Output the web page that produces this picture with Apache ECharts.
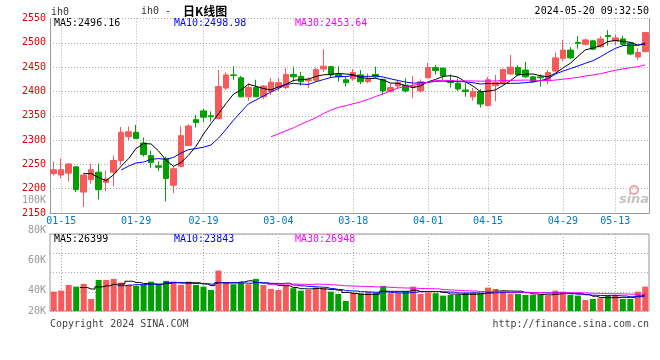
<!DOCTYPE html>
<html><head><meta charset="utf-8">
<script src="https://cdn.jsdelivr.net/npm/echarts/dist/echarts.min.js"></script>
<style>html,body{margin:0;padding:0;background:#fff}#c{width:660px;height:360px}</style>
</head><body><div id="c"></div>
<script>
const dates = ["01-12","01-15","01-16","01-17","01-18","01-19","01-22","01-23","01-24","01-25","01-26","01-29","01-30","01-31",
"02-01","02-02","02-05","02-06","02-07","02-08","02-19","02-20","02-21","02-22","02-23","02-26","02-27","02-28","02-29",
"03-01","03-04","03-05","03-06","03-07","03-08","03-11","03-12","03-13","03-14","03-15","03-18","03-19","03-20","03-21","03-22","03-25","03-26","03-27","03-28","03-29",
"04-01","04-02","04-03","04-08","04-09","04-10","04-11","04-12","04-15","04-16","04-17","04-18","04-19","04-22","04-23","04-24","04-25","04-26","04-29","04-30",
"05-06","05-07","05-08","05-09","05-10","05-13","05-14","05-15","05-16","05-17"];
const opens  = [2231,2228,2232,2245,2193,2219,2234,2213,2234,2258,2307,2316,2294,2268,2247,2262,2207,2246,2289,2342,
                2360,2350,2344,2407,2434,2428,2389,2408,2389,2400,2408,2408,2435,2431,2422,2423,2446,2451,2435,2424,
                2426,2434,2420,2435,2425,2400,2411,2413,2409,2401,2428,2449,2448,2422,2417,2403,2389,2400,2371,2412,
                2417,2436,2449,2444,2430,2430,2424,2442,2468,2485,2501,2497,2504,2492,2515,2504,2508,2500,2471,2482];
const closes = [2239,2239,2251,2198,2228,2239,2198,2220,2258,2316,2317,2303,2270,2254,2244,2221,2241,2309,2329,2336,
                2347,2348,2410,2434,2433,2389,2408,2389,2411,2419,2418,2435,2430,2420,2424,2445,2452,2434,2430,2418,
                2439,2420,2427,2430,2401,2408,2418,2401,2411,2420,2449,2443,2432,2418,2405,2400,2400,2374,2424,2418,
                2445,2450,2434,2430,2420,2428,2439,2469,2485,2469,2499,2506,2487,2508,2513,2510,2497,2477,2480,2521];
const lows   = [2227,2221,2215,2193,2162,2210,2178,2195,2205,2249,2299,2303,2266,2243,2236,2174,2191,2244,2289,2326,
                2337,2338,2343,2403,2424,2388,2381,2389,2384,2393,2401,2405,2420,2412,2407,2420,2440,2429,2420,2410,
                2422,2415,2417,2427,2393,2398,2406,2398,2387,2398,2428,2435,2424,2408,2401,2389,2381,2367,2369,2380,
                2415,2434,2432,2428,2418,2410,2415,2439,2462,2467,2488,2494,2485,2490,2494,2495,2494,2475,2465,2480];
const highs  = [2256,2262,2252,2245,2232,2251,2252,2237,2268,2327,2328,2331,2305,2278,2256,2266,2245,2328,2333,2352,
                2364,2359,2444,2439,2452,2432,2417,2424,2413,2428,2428,2448,2451,2440,2429,2449,2487,2452,2452,2430,
                2446,2444,2437,2451,2426,2417,2424,2427,2432,2425,2459,2454,2449,2435,2427,2417,2407,2405,2430,2434,
                2447,2475,2454,2461,2432,2435,2444,2480,2506,2491,2514,2509,2506,2514,2526,2516,2514,2502,2489,2522];
const volumes = [30600,32200,41200,38500,42800,19000,49100,49100,50700,44900,41200,39600,41200,46400,42300,47600,46400,41200,46400,41200,
                 38500,33300,63900,44900,42300,44900,42300,50700,41200,34900,33300,39600,36000,32200,33300,36900,36000,30600,26900,15900,
                 29000,28100,30600,29000,39600,28100,28100,30600,38500,26900,29000,28100,24300,25400,25400,28100,29000,28100,36900,34900,
                 30600,26900,26900,25400,25400,25400,24300,32200,30600,25400,24300,17400,19000,20100,24300,25400,19000,19000,30600,38500];
const labelDates = ["01-15","01-29","02-19","03-04","03-18","04-01","04-15","04-29","05-13"];
const volLabels = ["100K","80K","60K","40K","20K"];
const volLabelY = [200,230,260,290,311];

const UP = '#f65a5a', DOWN = '#00a000';
const MONO = '"DejaVu Sans Mono", "Liberation Mono", monospace';
function ma(arr, n) {
  return arr.map((v, i) => {
    if (i < n - 1) return '-';
    let s = 0; for (let k = i - n + 1; k <= i; k++) s += arr[k];
    return +(s / n).toFixed(2);
  });
}
const dot = { color: '#aaa', width: 1, type: [1, 2] };
const isLab = (i, v) => labelDates.indexOf(v) >= 0;

const chart = echarts.init(document.getElementById('c'), null, { renderer: 'canvas' });
const txt = (t, x, y, fill, align, font) => ({ type: 'text', x: x, y: y, silent: true,
  style: { text: t, fill: fill, align: align || 'left', verticalAlign: 'middle', font: font || ('10px ' + MONO) } });

const graphics = [
  txt('ih0', 51, 12, '#333'),
  txt('ih0 -', 141, 11, '#333'),
  txt('日K线图', 183, 11, '#000', 'left', 'bold 12px "Noto Sans CJK SC"'),
  txt('2024-05-20 09:32:50', 649, 11, '#000', 'right'),
  txt('MA5:2496.16', 54, 23, '#000'),
  txt('MA10:2498.98', 174, 23, '#0000ff'),
  txt('MA30:2453.64', 295, 23, '#ff00ff'),
  txt('MA5:26399', 54, 239, '#000'),
  txt('MA10:23843', 174, 239, '#0000ff'),
  txt('MA30:26948', 295, 239, '#ff00ff'),
  txt('Copyright 2024 SINA.COM', 50, 324, '#444'),
  txt('http://finance.sina.com.cn', 649, 324, '#444', 'right'),
  { type: 'circle', shape: { cx: 634, cy: 190, r: 4 }, style: { fill: 'none', stroke: '#f3a5a5', lineWidth: 2 }, silent: true },
  txt('sina', 634, 200, '#c4c4c4', 'center', 'italic bold 13px "DejaVu Sans"')
];
volLabels.forEach((t, i) => graphics.push(txt(t, 46, volLabelY[i], '#999', 'right')));

const maLine = (name, data, color, xi, yi, step) => ({
  name: name, type: 'line', data: data, xAxisIndex: xi, yAxisIndex: yi, showSymbol: false, symbol: 'none',
  step: step || false, lineStyle: { color: color, width: 1 }, z: 5, silent: true
});

chart.setOption({
  animation: false,
  backgroundColor: '#fff',
  grid: [
    { left: 50, right: 11, top: 18.5, height: 194.5, show: false },
    { left: 50, right: 11, top: 234, height: 77, show: true, borderColor: '#999', borderWidth: 1 }
  ],
  xAxis: [
    { type: 'category', gridIndex: 0, data: dates, boundaryGap: true,
      axisLine: { show: true, lineStyle: { color: '#999' } }, axisTick: { show: false },
      axisLabel: { interval: isLab, color: '#0077cc', fontFamily: MONO, fontSize: 10, margin: 3 },
      splitLine: { show: true, interval: isLab, alignWithLabel: true, lineStyle: dot } },
    { type: 'category', gridIndex: 1, data: dates, boundaryGap: true,
      axisLine: { show: false }, axisTick: { show: false }, axisLabel: { show: false },
      splitLine: { show: true, interval: isLab, alignWithLabel: true, lineStyle: dot } }
  ],
  yAxis: [
    { type: 'value', gridIndex: 0, min: 2150, max: 2550, interval: 50, position: 'left',
      axisLine: { show: true, lineStyle: { color: '#999' } }, axisTick: { show: false },
      axisLabel: { color: '#e00000', fontFamily: MONO, fontSize: 10, margin: 4, formatter: v => String(v) },
      splitLine: { show: true, lineStyle: dot } },
    { type: 'value', gridIndex: 0, min: 2150, max: 2550, interval: 50, position: 'right',
      axisLine: { show: true, lineStyle: { color: '#999' } }, axisTick: { show: false },
      axisLabel: { show: false }, splitLine: { show: false } },
    { type: 'value', gridIndex: 1, min: 0, max: 121600, interval: 30400,
      axisLine: { show: false }, axisTick: { show: false }, axisLabel: { show: false },
      splitLine: { show: true, lineStyle: dot } }
  ],
  series: [
    { type: 'candlestick', xAxisIndex: 0, yAxisIndex: 0, barWidth: 6,
      data: dates.map((d, i) => [opens[i], closes[i], lows[i], highs[i]]),
      itemStyle: { color: UP, color0: DOWN, borderColor: UP, borderColor0: DOWN, borderWidth: 1 } },
    maLine('MA5', ma(closes, 5), '#000000', 0, 0),
    maLine('MA10', ma(closes, 10), '#0000ff', 0, 0),
    maLine('MA30', ma(closes, 30), '#ff00ff', 0, 0),
    { type: 'bar', xAxisIndex: 1, yAxisIndex: 2, barWidth: 6, silent: true,
      data: volumes.map((v, i) => ({ value: v, itemStyle: { color: closes[i] >= opens[i] ? UP : DOWN } })) },
    maLine('VMA5', ma(volumes, 5), '#000000', 1, 2, 'middle'),
    maLine('VMA10', ma(volumes, 10), '#0000ff', 1, 2, 'middle'),
    maLine('VMA30', ma(volumes, 30), '#ff00ff', 1, 2, 'middle')
  ],
  graphic: graphics
});
</script></body></html>
